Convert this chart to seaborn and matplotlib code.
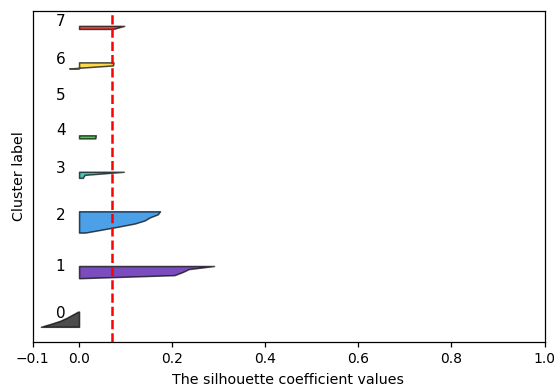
import numpy as np
import matplotlib
matplotlib.use("Agg")
import matplotlib.pyplot as plt
from matplotlib import cm
import seaborn as sns

# Per-sample silhouette coefficients for each cluster (sorted ascending)
cluster_labels = ["0", "1", "2", "3", "4", "5", "6", "7"]
sil_c0 = [-0.082, -0.060, -0.040, -0.026, -0.014, -0.002]
sil_c1 = [0.003, 0.205, 0.222, 0.236, 0.290]
sil_c2 = [0.013, 0.050, 0.086, 0.120, 0.141, 0.152, 0.169, 0.174]
sil_c3 = [0.008, 0.012, 0.096]
sil_c4 = [0.035, 0.036]
sil_c5 = [0.0]
sil_c6 = [-0.021, 0.073, 0.074]
sil_c7 = [0.073, 0.097]
x_ticks = [-0.1, 0.0, 0.2, 0.4, 0.6, 0.8, 1.0]

clusters = [sil_c0, sil_c1, sil_c2, sil_c3, sil_c4, sil_c5, sil_c6, sil_c7]
n_clusters = len(clusters)
silhouette_avg = np.mean(np.concatenate([np.asarray(c) for c in clusters]))

sns.set_style("ticks", rc={
    "axes.edgecolor": "black",
    "axes.labelcolor": "black",
    "text.color": "black",
    "xtick.color": "black",
    "ytick.color": "black",
})
plt.rcParams.update({
    "font.family": ["DejaVu Sans"],
    "font.size": 10,
    "axes.labelsize": 10.3,
    "xtick.labelsize": 10,
    "axes.linewidth": 0.9,
    "xtick.major.size": 3.5,
    "xtick.major.width": 0.9,
})

palette = sns.color_palette([cm.nipy_spectral(float(i) / n_clusters) for i in range(n_clusters)])

fig = plt.figure(figsize=(5.54, 3.89), dpi=100)
ax = fig.add_axes([32.5 / 554, 1 - 342 / 389, (544.5 - 32.5) / 554, (342 - 10.7) / 389])

y_lower = 5
y_top = 0
for i, vals in enumerate(clusters):
    vals = np.asarray(vals)
    size = len(vals)
    y_upper = y_lower + size
    ax.fill_betweenx(np.arange(y_lower, y_upper), 0, vals,
                     facecolor=palette[i], edgecolor="black",
                     linewidth=1.1, alpha=0.7)
    ax.text(-0.05, y_lower + 0.5 * size, cluster_labels[i], fontsize=11)
    y_top = y_upper - 1
    y_lower = y_upper + 10

ax.axvline(x=silhouette_avg, color="red", linestyle="--", linewidth=1.8)

ax.set_xlim(-0.1, 1.0)
ax.set_ylim(0, y_top + 5)
ax.set_xticks(x_ticks)
ax.set_yticks([])
ax.set_xlabel("The silhouette coefficient values", labelpad=5.5)
ax.set_ylabel("Cluster label", labelpad=4.5)
for side in ["top", "right", "left", "bottom"]:
    ax.spines[side].set_visible(True)

fig.savefig("out.png", dpi=100)
